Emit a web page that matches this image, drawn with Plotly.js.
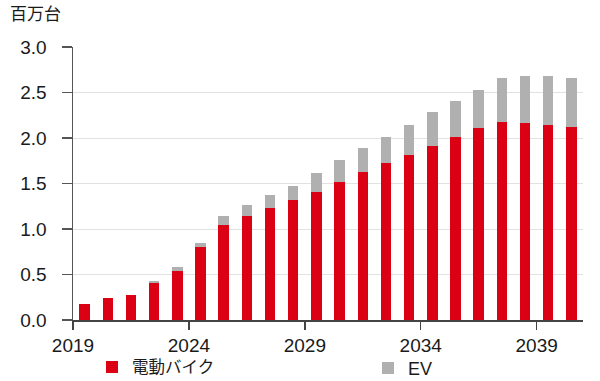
<!DOCTYPE html>
<html>
<head>
<meta charset="utf-8">
<script src="https://cdn.plot.ly/plotly-3.0.1.min.js"></script>
<style>html,body{margin:0;padding:0;background:#fff;}#chart{width:600px;height:381px;}</style>
</head>
<body>
<div id="chart"></div>
<script>
const years = [2019,2020,2021,2022,2023,2024,2025,2026,2027,2028,2029,2030,2031,2032,2033,2034,2035,2036,2037,2038,2039,2040];
const ebike = [0.18,0.24,0.28,0.41,0.54,0.80,1.04,1.14,1.23,1.32,1.41,1.52,1.63,1.72,1.81,1.91,2.01,2.11,2.18,2.17,2.14,2.12];
const ev = [0,0,0,0.02,0.04,0.05,0.10,0.12,0.14,0.15,0.21,0.24,0.26,0.29,0.33,0.38,0.40,0.42,0.48,0.51,0.54,0.54];
const tickYears = [2019,2024,2029,2034,2039];
const seriesNames = ['電動バイク','EV'];
const unitLabel = '百万台';

const font = "'Liberation Sans', Arial, sans-serif";
const cjk = "'Noto Sans CJK JP', sans-serif";

const traces = [
  {type:'bar', x:years, y:ebike, name:seriesNames[0], width:0.45, legend:'legend',
   marker:{color:'#dc0014', line:{width:0}}},
  {type:'bar', x:years, y:ev, name:seriesNames[1], width:0.45, legend:'legend2',
   marker:{color:'#b0b0b0', line:{width:0}}}
];

const legendCommon = {orientation:'h', xanchor:'left', xref:'container', yref:'container',
  y:0.082, yanchor:'top',
  font:{family:cjk, size:16.5, color:'#1a1a1a'}, bgcolor:'rgba(0,0,0,0)'};

const layout = {
  width:600, height:381,
  margin:{l:73, r:17, t:47, b:61},
  paper_bgcolor:'#fff', plot_bgcolor:'#fff',
  barmode:'stack',
  showlegend:true,
  legend:Object.assign({}, legendCommon, {x:92/600}),
  legend2:Object.assign({}, legendCommon, {x:368/600, font:{family:font, size:18, color:'#1a1a1a'}}),
  xaxis:{range:[2018.5,2040.5], tickvals:tickYears.map(v=>v-0.5), ticktext:tickYears.map(String),
    showgrid:false, zeroline:false, showline:true, linecolor:'#444', linewidth:1.5,
    ticks:'outside', ticklen:8, tickcolor:'#444', tickwidth:1.5,
    tickfont:{family:font, size:19, color:'#1a1a1a'}},
  yaxis:{range:[0,3], dtick:0.5, tickformat:'.1f',
    showgrid:true, gridcolor:'#e2e2e2', gridwidth:1, zeroline:false,
    showline:true, linecolor:'#555', linewidth:1.5,
    ticks:'outside', ticklen:10, tickcolor:'#555', tickwidth:1.5,
    ticklabelstandoff:11,
    tickfont:{family:font, size:19, color:'#1a1a1a'}},
  annotations:[{text:unitLabel, xref:'paper', yref:'paper', x:-0.128, y:1.075,
    xanchor:'left', yanchor:'bottom', showarrow:false,
    font:{family:cjk, size:17, color:'#1a1a1a'}}]
};

Plotly.newPlot('chart', traces, layout, {displayModeBar:false, staticPlot:true});
</script>
</body>
</html>
